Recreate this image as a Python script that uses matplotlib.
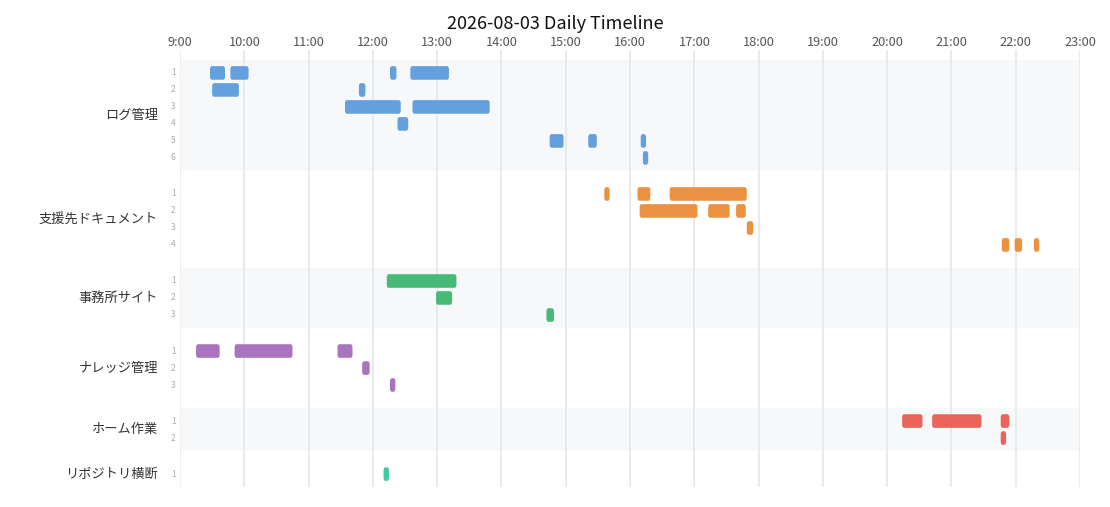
import matplotlib
matplotlib.use("Agg")
import matplotlib.pyplot as plt
from matplotlib.patches import FancyBboxPatch

plt.rcParams['font.family'] = ['Noto Sans CJK JP', 'DejaVu Sans']

# groups, colours and sessions (start, end) per row
groups = ["ログ管理", "支援先ドキュメント", "事務所サイト", "ナレッジ管理", "ホーム作業", "リポジトリ横断"]
colors = ["#64a0de", "#eb9142", "#48ba78", "#aa73be", "#eb645a", "#3ec8a6"]

log_rows = [
    [("9:28", "9:42"), ("9:47", "10:04"), ("12:16", "12:22"), ("12:35", "13:11")],
    [("9:30", "9:55"), ("11:47", "11:53")],
    [("11:34", "12:26"), ("12:37", "13:49")],
    [("12:23", "12:33")],
    [("14:45", "14:58"), ("15:21", "15:29"), ("16:10", "16:15")],
    [("16:12", "16:17")],
]
doc_rows = [
    [("15:36", "15:41"), ("16:07", "16:19"), ("16:37", "17:49")],
    [("16:09", "17:03"), ("17:13", "17:33"), ("17:39", "17:48")],
    [("17:49", "17:55")],
    [("21:47", "21:54"), ("21:59", "22:06"), ("22:17", "22:22")],
]
site_rows = [
    [("12:13", "13:18")],
    [("12:59", "13:14")],
    [("14:42", "14:49")],
]
knowledge_rows = [
    [("9:15", "9:37"), ("9:51", "10:45"), ("11:27", "11:41")],
    [("11:50", "11:57")],
    [("12:16", "12:21")],
]
home_rows = [
    [("20:14", "20:33"), ("20:42", "21:28"), ("21:46", "21:54")],
    [("21:46", "21:51")],
]
repo_rows = [
    [("12:10", "12:15")],
]
all_rows = [log_rows, doc_rows, site_rows, knowledge_rows, home_rows, repo_rows]

hours = list(range(9, 24))


def to_h(s):
    h, m = s.split(":")
    return int(h) + int(m) / 60


GAP = 2.12      # distance between last row of a group and first row of the next
BAR_H = 0.8
PAD = 0.74

fig = plt.figure(figsize=(11.1, 5.07), dpi=100)
ax = fig.add_axes([180 / 1110, 1 - 487 / 507, 900 / 1110, 437 / 507])

y = 0.0
for gi, (name, rows, col) in enumerate(zip(groups, all_rows, colors)):
    first = y
    for ri, sessions in enumerate(rows):
        ax.text(8.93, y, str(ri + 1), ha="right", va="center", fontsize=6, color="#aaaaaa")
        for s, e in sessions:
            x0, x1 = to_h(s), to_h(e)
            ax.add_patch(FancyBboxPatch((x0, y - BAR_H / 2), x1 - x0, BAR_H,
                                        boxstyle="round,pad=0,rounding_size=0.03",
                                        mutation_aspect=6,
                                        fc=col, ec="none", zorder=3))
        last = y
        y += 1
    if gi % 2 == 0:
        ax.axhspan(first - PAD, last + PAD, color="#f7f8fa", zorder=0, lw=0)
    ax.text(8.66, (first + last) / 2, name, ha="right", va="center", fontsize=9.5, color="#333333")
    y = last + GAP

for h in hours:
    ax.axvline(h, color="#e6e6e6" if h > 9 else "#eeeeee", lw=1.2, zorder=1)

ax.set_xlim(9, 23)
ax.set_ylim(last + 0.76, -1.35)
ax.xaxis.tick_top()
ax.set_xticks(hours)
ax.set_xticklabels([f"{h}:00" for h in hours], fontsize=9.2, color="#555555")
ax.tick_params(axis="x", length=0, pad=1)
ax.set_yticks([])
for sp in ax.spines.values():
    sp.set_visible(False)

fig.text(0.5, 1 - 24 / 507, "2026-08-03 Daily Timeline", ha="center", va="center",
         fontsize=13, color="#111111")

fig.savefig("out.png", dpi=100, facecolor="white")
